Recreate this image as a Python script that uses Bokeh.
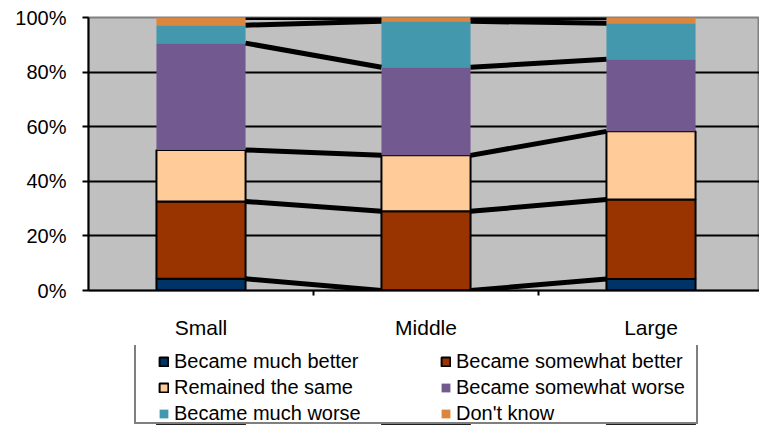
from bokeh.plotting import figure
from bokeh.layouts import column
from bokeh.models import (Range1d, FixedTicker, PrintfTickFormatter, Legend,
                          LegendItem, ColumnDataSource)
from bokeh.embed import file_html
from bokeh.resources import INLINE

# ---------------- data ----------------
categories = ["Small", "Middle", "Large"]
series_labels = ["Became much better", "Became somewhat better", "Remained the same",
                 "Became somewhat worse", "Became much worse", "Don't know"]
much_better = [4.3, 0.0, 4.2]
somewhat_better = [28.3, 29.0, 29.1]
remained_same = [18.9, 20.5, 25.0]
somewhat_worse = [39.1, 32.3, 26.4]
much_worse = [6.6, 16.8, 13.2]
dont_know = [2.8, 1.4, 2.1]
y_ticks = [0, 20, 40, 60, 80, 100]

# ---------------- styles ----------------
keys = ["much_better", "somewhat_better", "remained_same",
        "somewhat_worse", "much_worse", "dont_know"]
fills = ["#003366", "#993300", "#FFCC99", "#725990", "#4398AE", "#DA863E"]
outlines = ["black", "black", "black", None, None, None]
FONT = "Liberation Sans"
bar_w = 0.396

x = [i + 0.5 for i in range(len(categories))]
source = ColumnDataSource(dict(x=x, much_better=much_better, somewhat_better=somewhat_better,
                               remained_same=remained_same, somewhat_worse=somewhat_worse,
                               much_worse=much_worse, dont_know=dont_know))

p = figure(width=759, height=345, x_range=Range1d(0, 671 / 225), y_range=Range1d(0, 100),
           output_backend="svg", toolbar_location=None,
           min_border_left=88, min_border_right=0, min_border_top=17, min_border_bottom=55)
p.background_fill_color = "#C0C0C0"
p.border_fill_color = "white"
p.outline_line_color = "#808080"
p.outline_line_width = 2

# grid
p.xgrid.visible = False
p.ygrid.ticker = FixedTicker(ticks=[t for t in y_ticks if 0 < t < 100])
p.ygrid.grid_line_color = "black"
p.ygrid.grid_line_width = 2

# y axis
ya = p.yaxis[0]
ya.ticker = FixedTicker(ticks=y_ticks)
ya.formatter = PrintfTickFormatter(format="%d%%")
ya.axis_line_color = "black"
ya.axis_line_width = 2
ya.major_tick_line_color = "black"
ya.major_tick_line_width = 2
ya.major_tick_out = 6
ya.major_tick_in = 0
ya.minor_tick_line_color = None
ya.major_label_text_font = FONT
ya.major_label_text_font_size = "20px"
ya.major_label_text_color = "black"
ya.major_label_standoff = 16

# x axis
xa = p.xaxis[0]
xa.ticker = FixedTicker(ticks=x, minor_ticks=[i for i in range(1, len(categories))])
xa.major_label_overrides = {xv: c for xv, c in zip(x, categories)}
xa.axis_line_color = "black"
xa.axis_line_width = 2
xa.major_tick_line_color = None
xa.major_tick_out = 0
xa.major_tick_in = 0
xa.minor_tick_line_color = "black"
xa.minor_tick_line_width = 2
xa.minor_tick_out = 5
xa.minor_tick_in = 0
xa.major_label_text_font = FONT
xa.major_label_text_font_size = "21px"
xa.major_label_text_color = "black"
xa.major_label_standoff = 20

# bars
renderers = p.vbar_stack(keys, x="x", width=bar_w, source=source,
                         fill_color=fills, line_color=outlines, line_width=2)

# series lines
vals = [much_better, somewhat_better, remained_same, somewhat_worse, much_worse, dont_know]
cum = [0.0] * len(categories)
x0s, y0s, x1s, y1s = [], [], [], []
for v in vals:
    cum = [c + a for c, a in zip(cum, v)]
    for i in range(len(categories) - 1):
        x0s.append(x[i] + bar_w / 2)
        y0s.append(cum[i])
        x1s.append(x[i + 1] - bar_w / 2)
        y1s.append(cum[i + 1])
p.segment(x0s, y0s, x1s, y1s, line_color="black", line_width=5)

# ---------------- legend strip ----------------
# the bars of this strip lie below its y range; only their legend entries show
p2 = figure(width=759, height=80, x_range=Range1d(0, 671 / 225), y_range=Range1d(300, 380),
            output_backend="svg", toolbar_location=None,
            min_border_left=88, min_border_right=0, min_border_top=0, min_border_bottom=0,
            x_axis_location=None, y_axis_location=None)
p2.grid.visible = False
p2.outline_line_color = None
p2.background_fill_color = "white"
p2.border_fill_color = "white"

proxies = p2.vbar_stack(keys, x="x", width=bar_w, source=source,
                        fill_color=fills, line_color=outlines, line_width=2)

dummy = p2.rect([], [], width=1, height=1, fill_alpha=0, line_alpha=0)
box = Legend(items=[LegendItem(label=" ", renderers=[dummy])], location=(46, 1),
             padding=0, margin=0, glyph_width=1, glyph_height=1, label_standoff=0,
             label_width=559, label_height=77, border_line_color="black",
             border_line_width=2, background_fill_color="white", background_fill_alpha=1,
             label_text_font_size="2px")
p2.add_layout(box, "center")

leg = Legend(items=[LegendItem(label=l, renderers=[r]) for l, r in zip(series_labels, proxies)],
             location=(70, 0), orientation="horizontal", ncols=2,
             padding=0, margin=0, glyph_width=11, glyph_height=11, label_standoff=5,
             label_width=263, label_height=23, spacing=3, border_line_color=None,
             background_fill_alpha=0, label_text_font=FONT, label_text_font_size="20px",
             label_text_color="black")
p2.add_layout(leg, "center")

open("out.html", "w").write(file_html(column(p, p2, spacing=0), INLINE))
